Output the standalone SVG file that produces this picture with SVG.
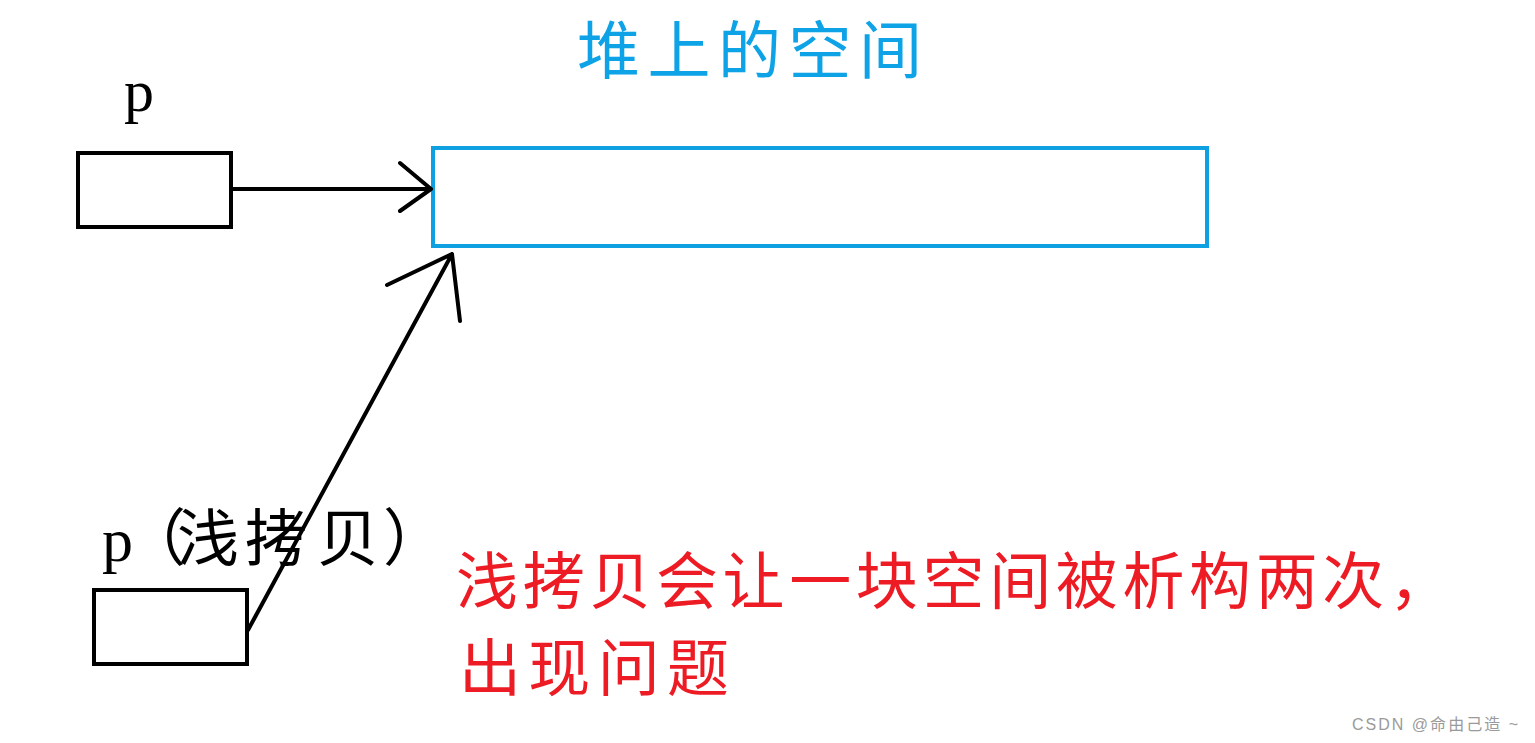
<svg xmlns="http://www.w3.org/2000/svg" width="1535" height="743" viewBox="0 0 1535 743">
<style>
.box{fill:none;stroke:#000;stroke-width:4}
.heap{fill:none;stroke:#0ea0e0;stroke-width:4}
.conn{fill:none;stroke:#000;stroke-width:4;stroke-linecap:round;stroke-linejoin:round}
.lbl{font-family:"Liberation Serif","Noto Sans CJK SC",serif;fill:#000}
.title{font-family:"Liberation Serif","Noto Sans CJK SC",serif;fill:#0ea2e6;font-size:63px}
.note{font-family:"Liberation Serif","Noto Sans CJK SC",serif;fill:#ed1c24;font-size:62px}
.wm{font-family:"Liberation Sans","Noto Sans CJK SC",sans-serif;fill:#9a9a9a;font-size:16px}
</style>
<rect width="1535" height="743" fill="#fff"/>
<text class="title" x="577" y="73" textLength="345" lengthAdjust="spacing">堆上的空间</text>
<g id="p">
<text class="lbl" x="124" y="111" font-size="60">p</text>
<rect class="box" x="78" y="153" width="153" height="74"/>
</g>
<g id="heap">
<rect class="heap" x="433" y="148" width="774" height="98"/>
</g>
<g id="p-copy">
<text class="lbl" x="102" y="561" dx="0 -9 -9 6 10 4" font-size="62">p（浅拷贝）</text>
<rect class="box" x="94" y="590" width="153" height="74"/>
</g>
<g id="connectors">
<path class="conn" d="M232 189 L431 189 M400 163 L431 189 L400 211"/>
<path class="conn" d="M248 630 L452 254 M387 285 L452 254 L460 321"/>
</g>
<text class="note" x="456" y="604" textLength="995" lengthAdjust="spacing">浅拷贝会让一块空间被析构两次，</text>
<text class="note" x="459" y="691" textLength="270" lengthAdjust="spacing">出现问题</text>
<text class="wm" x="1352" y="730" textLength="166" lengthAdjust="spacing">CSDN @命由己造 ~</text>
</svg>
